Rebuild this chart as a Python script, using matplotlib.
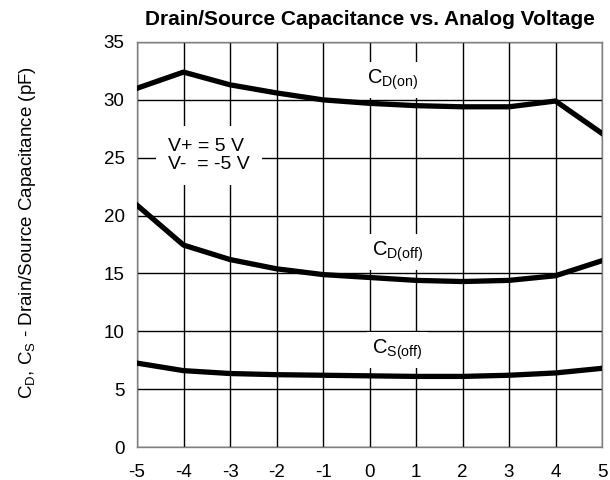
import matplotlib
matplotlib.use("Agg")
import matplotlib.pyplot as plt

plt.rcParams['font.family'] = ['Liberation Sans', 'DejaVu Sans']
plt.rcParams['mathtext.default'] = 'regular'
plt.rcParams['axes.unicode_minus'] = False

volts = [-5, -4, -3, -2, -1, 0, 1, 2, 3, 4, 5]
cd_on = [31.0, 32.4, 31.3, 30.6, 30.0, 29.7, 29.5, 29.4, 29.4, 29.9, 27.1]
cd_off = [20.9, 17.45, 16.2, 15.4, 14.9, 14.65, 14.4, 14.3, 14.4, 14.8, 16.1]
cs_off = [7.25, 6.6, 6.35, 6.25, 6.2, 6.15, 6.1, 6.1, 6.2, 6.4, 6.8]

fig = plt.figure(figsize=(6.1, 4.8), dpi=100)
ax = fig.add_axes([0.2246, 0.06875, 0.7623, 0.84375])

for serie in (cd_on, cd_off, cs_off):
    ax.plot(volts, serie, color='black', lw=3.8, solid_joinstyle='round', zorder=3)

ax.set_xlim(-5, 5)
ax.set_ylim(0, 35)
ax.set_xticks(range(-5, 6))
ax.set_yticks(range(0, 36, 5))
ax.grid(True, color='black', lw=1)
ax.set_axisbelow(True)
ax.tick_params(length=0, labelsize=13.5)
ax.tick_params(axis='x', pad=12)
ax.tick_params(axis='y', pad=9)
for s in ax.spines.values():
    s.set_color('#808080')
    s.set_linewidth(1)

ax.set_title('Drain/Source Capacitance vs. Analog Voltage', fontsize=15,
             fontweight='bold', pad=12)
ax.set_ylabel('C$_D$, C$_S$ - Drain/Source Capacitance (pF)', fontsize=13.5)
ax.yaxis.set_label_coords(-0.213, 0.53)

caja = dict(facecolor='white', edgecolor='none', pad=4)
ax.text(0.5, 31.7, 'C$_{D(on)}$', fontsize=14.5, ha='center', va='center', bbox=caja, zorder=2)
ax.text(0.6, 16.85, 'C$_{D(off)}$', fontsize=14.5, ha='center', va='center', bbox=caja, zorder=2)
ax.text(0.6, 8.4, 'C$_{S(off)}$', fontsize=14.5, ha='center', va='center', bbox=caja, zorder=2)
ax.text(-4.33, 25.2, 'V+ = 5 V\nV-  = -5 V', fontsize=14, ha='left', va='center',
        linespacing=1.1, zorder=2,
        bbox=dict(facecolor='white', edgecolor='none', boxstyle='square,pad=0.6'))

fig.savefig('out.png', dpi=100)
